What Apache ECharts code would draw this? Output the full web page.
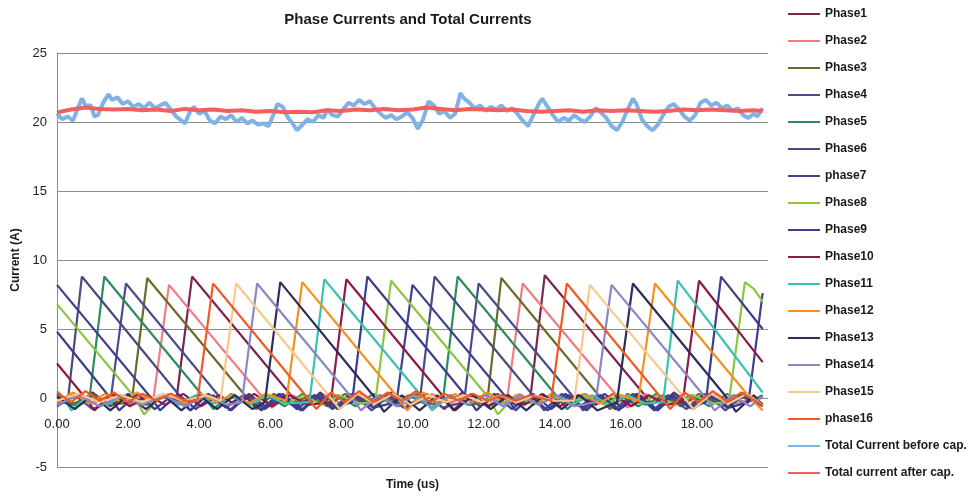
<!DOCTYPE html>
<html lang="en">
<head>
	<meta charset="UTF-8">
	<script src="https://cdn.jsdelivr.net/npm/echarts@6/dist/echarts.min.js"></script>
	<title>Phase Currents and Total Currents</title>
</head>
<body style="margin:0">
<div id="main" style="width: 972px;height:497px;"></div>
<script type="text/javascript">
	// series names, as in the legend
	var names = ['Phase1','Phase2','Phase3','Phase4','Phase5','Phase6','phase7','Phase8','Phase9',
		'Phase10','Phase11','Phase12','Phase13','Phase14','Phase15','phase16',
		'Total Current before cap.','Total current after cap.'];
	var colors = ['#7a2550','#f07b82','#6b6a2a','#4a4c8c','#2e8b5a','#4b4a7e','#3d3f90','#8cc63f','#3c3c8c',
		'#8c1a47','#3cc0b4','#f5901e','#2b2d5c','#8a86c8','#f8c88c','#f05a28','#7fb2e5','#f0605e'];

	// phase currents, [time (us), current (A)]
	var phase1 = [[0,0.3],[0.5,-0.5],[1.0,0.4],[1.5,-0.6],[2.0,0.3],[2.5,-0.5],[3.0,0.2],[3.35,-0.3],[3.8,8.8],[6.65,0],[6.9,-0.9],[7.4,0.4],[7.9,-0.6],[8.4,0.3],[8.9,-0.7],[9.4,0.4],[9.9,-0.5],[10.4,0.3],[10.9,-0.8],[11.4,0.4],[11.9,-0.6],[12.4,0.3],[12.9,-0.5],[13.3,-0.3],[13.72,8.9],[16.6,0],[16.85,-0.9],[17.35,0.4],[17.85,-0.6],[18.35,0.3],[18.85,-0.7],[19.35,0.4],[19.85,-0.5]];
	var phase2 = [[0,-0.3],[0.5,0.3],[1.0,-0.4],[1.5,0.2],[2.0,-0.5],[2.7,-0.3],[3.15,8.2],[5.8,0],[6.05,-0.7],[6.55,0.3],[7.05,-0.4],[7.55,0.2],[8.05,-0.5],[8.55,0.3],[9.05,-0.4],[9.55,0.2],[10.05,-0.5],[10.55,0.3],[11.05,-0.4],[11.55,0.2],[12.05,-0.5],[12.65,-0.3],[13.1,8.3],[15.8,0],[16.05,-0.7],[16.55,0.3],[17.05,-0.4],[17.55,0.2],[18.05,-0.5],[18.55,0.3],[19.05,-0.4],[19.85,0.1]];
	var phase3 = [[0,0.2],[0.5,-0.4],[1.0,0.3],[1.5,-0.5],[2.1,-0.3],[2.54,8.7],[5.35,0],[5.6,-0.8],[6.1,0.3],[6.6,-0.5],[7.1,0.2],[7.6,-0.6],[8.1,0.3],[8.6,-0.4],[9.1,0.2],[9.6,-0.6],[10.1,0.3],[10.6,-0.5],[11.1,0.2],[11.6,-0.5],[12.1,-0.3],[12.5,8.7],[15.3,0],[15.55,-0.8],[16.05,0.3],[16.55,-0.5],[17.05,0.2],[17.55,-0.6],[18.05,0.3],[18.55,-0.4],[19.05,0.2],[19.85,-0.4]];
	var phase4 = [[0,-0.6],[0.5,0.2],[1.0,-0.8],[1.5,-0.3],[1.94,8.3],[4.6,0],[4.85,-0.9],[5.35,0.2],[5.85,-0.8],[6.35,0.3],[6.85,-0.9],[7.35,0.2],[7.85,-0.7],[8.35,0.3],[8.85,-0.9],[9.35,0.2],[9.85,-0.8],[10.35,0.3],[10.85,-0.7],[11.45,-0.3],[11.86,8.3],[14.55,0],[14.8,-0.9],[15.3,0.2],[15.8,-0.8],[16.3,0.3],[16.8,-0.9],[17.3,0.2],[17.8,-0.7],[18.3,0.3],[18.8,-0.9],[19.3,0.2],[19.85,-0.6]];
	var phase5 = [[0,0.1],[0.4,-0.5],[0.9,-0.3],[1.33,8.8],[4.15,0],[4.4,-0.8],[4.9,0.3],[5.4,-0.4],[5.9,0.2],[6.4,-0.6],[6.9,0.3],[7.4,-0.4],[7.9,0.2],[8.4,-0.6],[8.9,0.3],[9.4,-0.4],[9.9,0.2],[10.4,-0.5],[10.85,-0.3],[11.27,8.8],[14.1,0],[14.35,-0.8],[14.85,0.3],[15.35,-0.4],[15.85,0.2],[16.35,-0.6],[16.85,0.3],[17.35,-0.4],[17.85,0.2],[18.35,-0.6],[18.85,0.3],[19.35,-0.4],[19.85,0.2]];
	var phase6 = [[0,-0.4],[0.3,-0.3],[0.7,8.8],[3.5,0],[3.75,-0.9],[4.25,0.3],[4.75,-0.6],[5.25,0.2],[5.75,-0.8],[6.25,0.3],[6.75,-0.5],[7.25,0.2],[7.75,-0.8],[8.25,0.3],[8.75,-0.6],[9.25,0.2],[9.75,-0.7],[10.2,-0.3],[10.62,8.8],[13.45,0],[13.7,-0.9],[14.2,0.3],[14.7,-0.6],[15.2,0.2],[15.7,-0.8],[16.2,0.3],[16.7,-0.5],[17.2,0.2],[17.7,-0.8],[18.2,0.3],[18.7,-0.6],[19.2,0.2],[19.85,-0.5]];
	var phase7 = [[0,8.2],[2.65,0],[2.9,-0.9],[3.4,0.3],[3.9,-0.8],[4.4,0.2],[4.9,-0.9],[5.4,0.3],[5.9,-0.7],[6.4,0.2],[6.9,-0.9],[7.4,0.3],[7.9,-0.8],[8.4,0.2],[8.9,-0.7],[9.55,-0.3],[10.0,8.2],[12.65,0],[12.9,-0.9],[13.4,0.3],[13.9,-0.8],[14.4,0.2],[14.9,-0.9],[15.4,0.3],[15.9,-0.7],[16.4,0.2],[16.9,-0.9],[17.4,0.3],[17.9,-0.8],[18.4,0.2],[18.9,-0.7],[19.45,-0.3],[19.85,7.6]];
	var phase8 = [[0,6.8],[2.2,0],[2.45,-1.2],[2.95,0.2],[3.45,-0.5],[3.95,0.2],[4.45,-0.4],[4.95,0.2],[5.45,-0.5],[5.95,0.2],[6.45,-0.4],[6.95,0.2],[7.45,-0.5],[7.95,0.2],[8.45,-0.4],[8.95,-0.3],[9.4,8.5],[12.15,0],[12.4,-1.2],[12.9,0.2],[13.4,-0.5],[13.9,0.2],[14.4,-0.4],[14.9,0.2],[15.4,-0.5],[15.9,0.2],[16.4,-0.4],[16.9,0.2],[17.4,-0.5],[17.9,0.2],[18.45,-0.4],[18.9,-0.3],[19.35,8.4],[19.6,7.9],[19.85,7.0]];
	var phase9 = [[0,4.8],[1.5,0],[1.75,-0.9],[2.25,0.3],[2.75,-0.8],[3.25,0.2],[3.75,-0.9],[4.25,0.3],[4.75,-0.7],[5.25,0.2],[5.75,-0.9],[6.25,0.3],[6.75,-0.8],[7.25,0.2],[7.75,-0.7],[8.3,-0.3],[8.73,8.8],[11.55,0],[11.8,-0.9],[12.3,0.3],[12.8,-0.8],[13.3,0.2],[13.8,-0.9],[14.3,0.3],[14.8,-0.7],[15.3,0.2],[15.8,-0.9],[16.3,0.3],[16.8,-0.8],[17.3,0.2],[17.8,-0.7],[18.25,-0.3],[18.68,8.8],[19.85,5.0]];
	var phase10 = [[0,2.5],[0.8,0],[1.05,-0.9],[1.55,0.3],[2.05,-0.6],[2.55,0.2],[3.05,-0.5],[3.55,0.3],[4.05,-0.6],[4.55,0.2],[5.05,-0.5],[5.55,0.3],[6.05,-0.6],[6.55,0.2],[7.05,-0.5],[7.7,-0.3],[8.14,8.6],[10.9,0],[11.15,-0.9],[11.65,0.3],[12.15,-0.6],[12.65,0.2],[13.15,-0.5],[13.65,0.3],[14.15,-0.6],[14.65,0.2],[15.15,-0.5],[15.65,0.3],[16.15,-0.6],[16.65,0.2],[17.15,-0.5],[17.6,-0.3],[18.06,8.5],[19.85,2.6]];
	var phase11 = [[0,0.5],[0.2,0],[0.4,-0.9],[0.9,0.2],[1.4,-0.5],[1.9,0.2],[2.4,-0.4],[2.9,0.2],[3.4,-0.5],[3.9,0.2],[4.4,-0.4],[4.9,0.2],[5.4,-0.5],[5.9,0.2],[6.4,-0.4],[7.1,-0.3],[7.52,8.6],[10.3,0],[10.55,-0.9],[11.05,0.2],[11.55,-0.5],[12.05,0.2],[12.55,-0.4],[13.05,0.2],[13.55,-0.5],[14.05,0.2],[14.55,-0.4],[15.05,0.2],[15.55,-0.5],[16.05,0.2],[16.55,-0.4],[17.05,-0.3],[17.46,8.5],[19.85,0.4]];
	var phase12 = [[0,-0.3],[0.45,0.4],[0.9,-0.4],[1.35,0.3],[1.8,-0.3],[2.25,0.4],[2.7,-0.3],[3.15,0.3],[3.6,-0.4],[4.05,0.3],[4.5,-0.3],[4.95,0.3],[5.4,-0.4],[5.85,0.3],[6.45,-0.2],[6.9,8.4],[9.6,0],[9.85,-0.9],[10.3,0.4],[10.75,-0.4],[11.2,0.3],[11.65,-0.3],[12.1,0.4],[12.55,-0.3],[13.0,0.3],[13.45,-0.4],[13.9,0.3],[14.35,-0.3],[14.8,0.3],[15.25,-0.4],[15.7,0.3],[16.35,-0.2],[16.82,8.3],[19.5,0],[19.85,-0.9]];
	var phase13 = [[0,0.1],[0.5,-0.8],[1.0,0.2],[1.5,-0.9],[2.0,0.2],[2.5,-0.8],[3.0,0.2],[3.5,-0.9],[4.0,0.2],[4.5,-0.8],[5.0,0.2],[5.5,-0.8],[5.85,-0.3],[6.28,8.4],[8.95,0],[9.2,-1.0],[9.7,0.2],[10.2,-0.9],[10.7,0.2],[11.2,-0.9],[11.7,0.2],[12.2,-0.8],[12.7,0.2],[13.2,-0.9],[13.7,0.2],[14.2,-0.8],[14.7,0.2],[15.2,-0.9],[15.75,-0.3],[16.2,8.3],[18.85,0],[19.1,-1.0],[19.6,0.2],[19.85,-0.5]];
	var phase14 = [[0,-0.5],[0.6,0.2],[1.2,-0.6],[1.8,0.2],[2.4,-0.5],[3.0,0.2],[3.6,-0.6],[4.2,0.2],[4.8,-0.5],[5.2,-0.3],[5.63,8.3],[8.3,0],[8.55,-0.9],[9.05,0.2],[9.55,-0.6],[10.05,0.2],[10.55,-0.7],[11.05,0.2],[11.55,-0.5],[12.05,0.2],[12.55,-0.6],[13.05,0.2],[13.55,-0.5],[14.05,0.2],[14.55,-0.6],[15.15,-0.3],[15.6,8.2],[18.25,0],[18.5,-0.9],[19.0,0.2],[19.5,-0.6],[19.85,0.1]];
	var phase15 = [[0,-0.2],[0.6,0.3],[1.2,-0.3],[1.8,0.2],[2.4,-0.3],[3.0,0.3],[3.6,-0.2],[4.2,0.2],[4.6,-0.2],[5.04,8.3],[7.7,0],[7.95,-0.8],[8.45,0.3],[8.95,-0.4],[9.45,0.3],[9.95,-0.5],[10.45,0.2],[10.95,-0.3],[11.45,0.2],[11.95,-0.3],[12.45,0.2],[12.95,-0.3],[13.45,0.2],[13.95,-0.2],[14.55,-0.2],[14.99,8.2],[17.65,0],[17.9,-0.8],[18.4,0.3],[18.9,-0.4],[19.4,0.3],[19.85,-0.5]];
	var phase16 = [[0,0.4],[0.4,-0.3],[0.8,0.5],[1.2,-0.2],[1.6,0.4],[2.0,-0.3],[2.4,0.3],[2.8,-0.2],[3.2,0.3],[3.6,-0.2],[3.95,-0.2],[4.39,8.3],[7.05,0],[7.3,-0.8],[7.7,0.4],[8.1,-0.3],[8.5,0.5],[8.9,-0.3],[9.3,0.4],[9.7,-0.2],[10.1,0.5],[10.5,-0.3],[10.9,0.3],[11.3,-0.2],[11.7,0.3],[12.1,-0.2],[12.5,0.2],[12.9,-0.2],[13.3,0.2],[13.9,-0.2],[14.34,8.3],[17.0,0],[17.25,-0.8],[17.65,0.4],[18.05,-0.3],[18.45,0.5],[18.85,-0.3],[19.25,0.4],[19.85,-0.5]];

	// total current before the capacitor
	var beforeTime = [0,0.15,0.3,0.45,0.6,0.7,0.8,0.95,1.05,1.15,1.3,1.45,1.55,1.7,1.85,2.0,2.15,2.3,2.45,2.6,2.75,2.9,3.05,3.2,3.35,3.5,3.6,3.75,3.85,4.0,
		4.15,4.3,4.45,4.6,4.75,4.9,5.05,5.2,5.35,5.5,5.65,5.8,5.95,6.1,6.2,6.35,6.5,6.6,6.75,6.9,7.05,7.2,7.35,7.5,7.6,7.75,7.9,8.05,8.2,8.35,
		8.5,8.65,8.8,8.95,9.1,9.25,9.4,9.55,9.7,9.85,10.0,10.15,10.3,10.45,10.6,10.75,10.9,11.05,11.2,11.35,11.45,11.6,11.75,11.9,12.05,12.2,12.35,12.5,12.65,12.8,
		12.95,13.1,13.25,13.4,13.55,13.65,13.8,13.95,14.1,14.25,14.4,14.55,14.7,14.85,15.0,15.15,15.3,15.45,15.6,15.75,15.9,16.05,16.2,16.3,16.45,16.6,16.75,16.9,17.05,17.2,
		17.35,17.5,17.65,17.8,17.95,18.1,18.25,18.4,18.55,18.7,18.85,19.0,19.15,19.3,19.45,19.6,19.7,19.85];
	var totalBefore = [20.6,20.2,20.4,20.1,21.1,21.7,21.2,21.2,20.4,20.5,21.4,22.0,21.6,21.8,21.3,21.5,21.1,21.3,21.0,21.4,21.0,21.2,21.4,20.9,20.4,20.1,19.9,20.8,21.1,20.6,
		20.8,20.1,19.9,20.4,20.2,20.5,20.0,20.3,19.9,20.1,19.8,19.9,19.7,20.6,21.3,21.1,20.3,20.0,19.4,19.8,20.2,20.0,20.5,20.3,20.9,20.5,20.4,20.9,21.4,21.2,
		21.6,21.3,21.5,21.0,20.6,20.3,20.5,20.2,20.4,20.7,20.3,19.5,20.2,21.5,21.2,20.6,20.8,20.3,20.6,22.1,21.7,21.4,21.0,21.2,20.8,21.1,20.9,21.2,20.8,21.0,
		20.6,20.1,19.7,20.5,21.3,21.7,21.1,20.5,20.0,20.3,20.1,20.5,20.2,20.0,20.4,21.0,20.7,20.3,19.7,19.4,20.0,20.9,21.7,21.3,20.2,19.7,19.4,19.8,20.5,21.1,
		21.3,20.9,20.4,20.1,20.5,21.4,21.6,21.2,21.4,21.0,21.2,20.8,21.0,20.5,20.3,20.6,20.4,21.0];

	// total current after the capacitor
	var afterTime = [0,0.4,0.8,1.2,1.6,2.0,2.4,2.8,3.2,3.6,4.0,4.4,4.8,5.2,5.6,6.0,6.4,6.8,7.2,7.6,8.0,8.4,8.8,9.2,9.6,
		10.0,10.4,10.8,11.2,11.6,12.0,12.4,12.8,13.2,13.6,14.0,14.4,14.8,15.2,15.6,16.0,16.4,16.8,17.2,17.6,18.0,18.4,18.8,19.2,19.6,19.85];
	var totalAfter = [20.7,20.9,21.05,20.95,20.9,20.95,20.85,20.9,20.8,20.95,20.85,20.9,20.8,20.85,20.75,20.8,20.7,20.75,20.7,20.85,20.8,20.9,20.85,20.95,20.85,
		20.9,21.05,20.95,20.85,20.95,20.9,20.85,20.9,20.8,20.75,20.8,20.85,20.75,20.85,20.8,20.85,20.8,20.75,20.8,20.9,20.85,20.9,20.85,20.8,20.85,20.8];

	var xTicks = [0, 2, 4, 6, 8, 10, 12, 14, 16, 18];

	function zip(a, b) {
		return a.map(function (t, i) { return [t, b[i]]; });
	}

	var phases = [phase1, phase2, phase3, phase4, phase5, phase6, phase7, phase8, phase9,
		phase10, phase11, phase12, phase13, phase14, phase15, phase16];
	var allData = phases.concat([zip(beforeTime, totalBefore), zip(afterTime, totalAfter)]);

	var series = allData.map(function (d, i) {
		var w = 2.2;
		if (i === 16) w = 4;
		if (i === 17) w = 4;
		return {
			name: names[i],
			type: 'line',
			symbol: 'none',
			data: d,
			lineStyle: {width: w, color: colors[i]},
			itemStyle: {color: colors[i]}
		};
	});

	var chart = echarts.init(document.getElementById('main'));
	var option = {
		animation: false,
		backgroundColor: '#fff',
		color: colors,
		title: {
			text: 'Phase Currents and Total Currents',
			left: 403, top: 7, textAlign: 'center',
			textStyle: {fontFamily: 'Liberation Sans', fontSize: 15, fontWeight: 'bold', color: '#1a1a1a'}
		},
		legend: {
			orient: 'vertical',
			left: 783, top: 3,
			icon: 'rect',
			itemWidth: 32, itemHeight: 2, itemGap: 15,
			textStyle: {fontFamily: 'Liberation Sans', fontSize: 12, fontWeight: 'bold', color: '#1a1a1a'},
			data: names
		},
		grid: {left: 57, right: 204, top: 53, bottom: 30, outerBoundsMode: 'none'},
		xAxis: {
			// labels sit just under the zero line, as in the original
			type: 'value', min: 0, max: 20, interval: 2,
			name: 'Time (us)', nameLocation: 'middle', nameGap: 12,
			nameTextStyle: {fontFamily: 'Liberation Sans', fontSize: 12, fontWeight: 'bold', color: '#1a1a1a'},
			axisLine: {show: false},
			axisTick: {show: false},
			splitLine: {show: false},
			axisLabel: {
				margin: -49, fontFamily: 'Liberation Sans', fontSize: 13, color: '#222',
				formatter: function (v) { return xTicks.indexOf(v) >= 0 ? v.toFixed(2) : ''; }
			}
		},
		yAxis: {
			type: 'value', min: -5, max: 25, interval: 5,
			name: 'Current (A)', nameLocation: 'middle', nameGap: 21,
			nameTextStyle: {fontFamily: 'Liberation Sans', fontSize: 12, fontWeight: 'bold', color: '#1a1a1a'},
			axisLine: {show: true, onZero: false, lineStyle: {color: '#8a8a8a'}},
			axisTick: {show: false},
			splitLine: {lineStyle: {color: '#8c8c8c'}},
			axisLabel: {margin: 10, fontFamily: 'Liberation Sans', fontSize: 13, color: '#222'}
		},
		series: series
	};
	chart.setOption(option);
</script>
</body>
</html>
